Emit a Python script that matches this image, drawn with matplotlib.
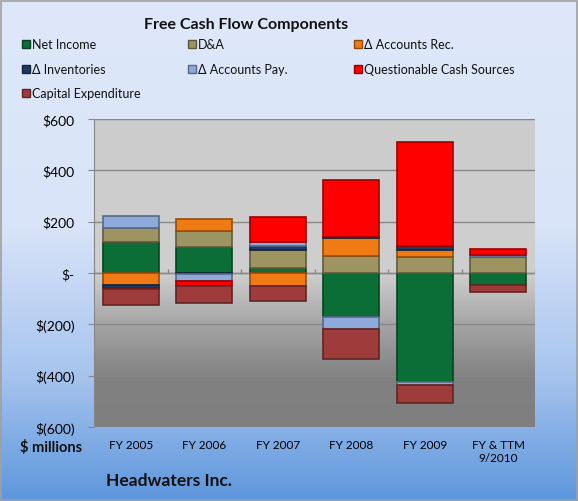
import numpy as np
import matplotlib
matplotlib.use("Agg")
import matplotlib.pyplot as plt
from matplotlib.colors import LinearSegmentedColormap, to_rgb
from matplotlib.patches import Rectangle
from matplotlib.ticker import FuncFormatter

plt.rcParams['font.family'] = ['Lato', 'DejaVu Sans']

categories = ["FY 2005", "FY 2006", "FY 2007", "FY 2008", "FY 2009", "FY & TTM\n9/2010"]
series_names = ["Net Income", "D&A", "\u0394 Accounts Rec.", "\u0394 Inventories",
                "\u0394 Accounts Pay.", "Questionable Cash Sources", "Capital Expenditure"]
net_income = [122, 103, 18, -173, -424, -47]
d_and_a = [53, 61, 73, 68, 64, 61]
accounts_rec = [-46, 46, -52, 70, 27, 0]
inventories = [-14, -2, 16, 3, 13, 0]
accounts_pay = [47, -28, 14, -46, -13, 10]
questionable = [-3, -20, 96, 220, 406, 23]
capex = [-61, -65, -57, -117, -68, -28]
series_values = [net_income, d_and_a, accounts_rec, inventories, accounts_pay, questionable, capex]
colors = ["#0A6E36", "#9D9462", "#F07A14", "#1F3A64", "#8EAADB", "#FF0000", "#9E3C3C"]
y_ticks = [-600, -400, -200, 0, 200, 400, 600]

W, H = 578, 502
fig = plt.figure(figsize=(W / 100, H / 100), dpi=100)

# figure background gradient
bg = fig.add_axes([0, 0, 1, 1], zorder=-10)
bg_cmap = LinearSegmentedColormap.from_list(
    "bg", [(0, "#5E96DC"), (0.25, "#A6C4EE"), (0.55, "#D9E4F8"), (1, "#DEE8FA")])
grad = np.linspace(0, 1, 256).reshape(-1, 1)
bg.imshow(grad, aspect="auto", cmap=bg_cmap, origin="lower", extent=[0, 1, 0, 1])
bg.add_patch(Rectangle((0.002, 0.002), 0.996, 0.994, fill=False, ec="#A0A0A0", lw=1.2,
                       transform=bg.transAxes))
bg.set_axis_off()

ax = fig.add_axes([94 / W, (H - 428) / H, (535 - 94) / W, (428 - 120) / H])
x = np.arange(len(categories))

# plot area gradient
pa_cmap = LinearSegmentedColormap.from_list(
    "pa", [(0, "#7F7F7F"), (0.16, "#818181"), (0.32, "#A2A2A2"), (0.5, "#CFCFCF"), (1, "#CCCCCC")])
ax.imshow(grad, aspect="auto", cmap=pa_cmap, origin="lower",
          extent=[-0.5, len(categories) - 0.5, -600, 600], zorder=0)

for yt in y_ticks[1:-1]:
    ax.axhline(yt, color="#878787", lw=1.0, zorder=1)
ax.axhline(600, color="#878787", lw=1.0, zorder=1)

pos_bottom = np.zeros(len(categories))
neg_bottom = np.zeros(len(categories))
bw = 0.76
for name, vals, col in zip(series_names, series_values, colors):
    vals = np.array(vals, dtype=float)
    bottoms = np.where(vals >= 0, pos_bottom, neg_bottom)
    edge = tuple(c * 0.62 for c in to_rgb(col))
    ax.bar(x, vals, bw, bottom=bottoms, color=col, edgecolor=edge, linewidth=1.2,
           zorder=3, label=name)
    pos_bottom += np.where(vals >= 0, vals, 0)
    neg_bottom += np.where(vals < 0, vals, 0)

ax.set_xlim(-0.5, len(categories) - 0.5)
ax.set_ylim(-600, 600)
ax.set_yticks(y_ticks)

def fmt(v, pos):
    if v == 0:
        return "$-"
    if v < 0:
        return "$({:d})".format(int(-v))
    return "${:d}".format(int(v))

ax.yaxis.set_major_formatter(FuncFormatter(fmt))
ax.tick_params(axis="y", labelsize=10, length=4, color="#878787", pad=10)
ax.set_xticks(x)
ax.set_xticklabels(categories, fontsize=8.5)
ax.tick_params(axis="x", length=0, pad=9)
for s in ["top", "right", "bottom"]:
    ax.spines[s].set_visible(False)
ax.spines["left"].set_color("#878787")

# zero axis with category divider ticks
ax.axhline(0, color="#878787", lw=1.0, zorder=2)
ax.vlines(np.arange(len(categories) + 1) - 0.5, 0, 16, color="#878787", lw=1.0, zorder=2)

# title
fig.text(246 / W, 1 - 25 / H, "Free Cash Flow Components", ha="center", va="center",
         fontsize=11.5, fontweight="bold", color="#111111")

# legend (row-major, 3 columns)
col_x = [22, 188, 354]
row_y = [45, 70, 94]
for i, (name, col) in enumerate(zip(series_names, colors)):
    r, c = divmod(i, 3)
    mx, my = col_x[c], row_y[r]
    edge = tuple(v * 0.6 for v in to_rgb(col))
    fig.patches.append(Rectangle((mx / W, 1 - (my + 4) / H), 8 / W, 8 / H, transform=fig.transFigure,
                                 fc=col, ec=edge, lw=1.0))
    fig.text((mx + 10) / W, 1 - my / H, name, ha="left", va="center", fontsize=9, color="#111111")

fig.text(20 / W, 1 - 448 / H, "$ millions", ha="left", va="center", fontsize=10.5,
         fontweight="bold", color="#111111")
fig.text(106 / W, 1 - 481 / H, "Headwaters Inc.", ha="left", va="center", fontsize=12.5,
         fontweight="bold", color="#111111")

fig.savefig("out.png", dpi=100)
